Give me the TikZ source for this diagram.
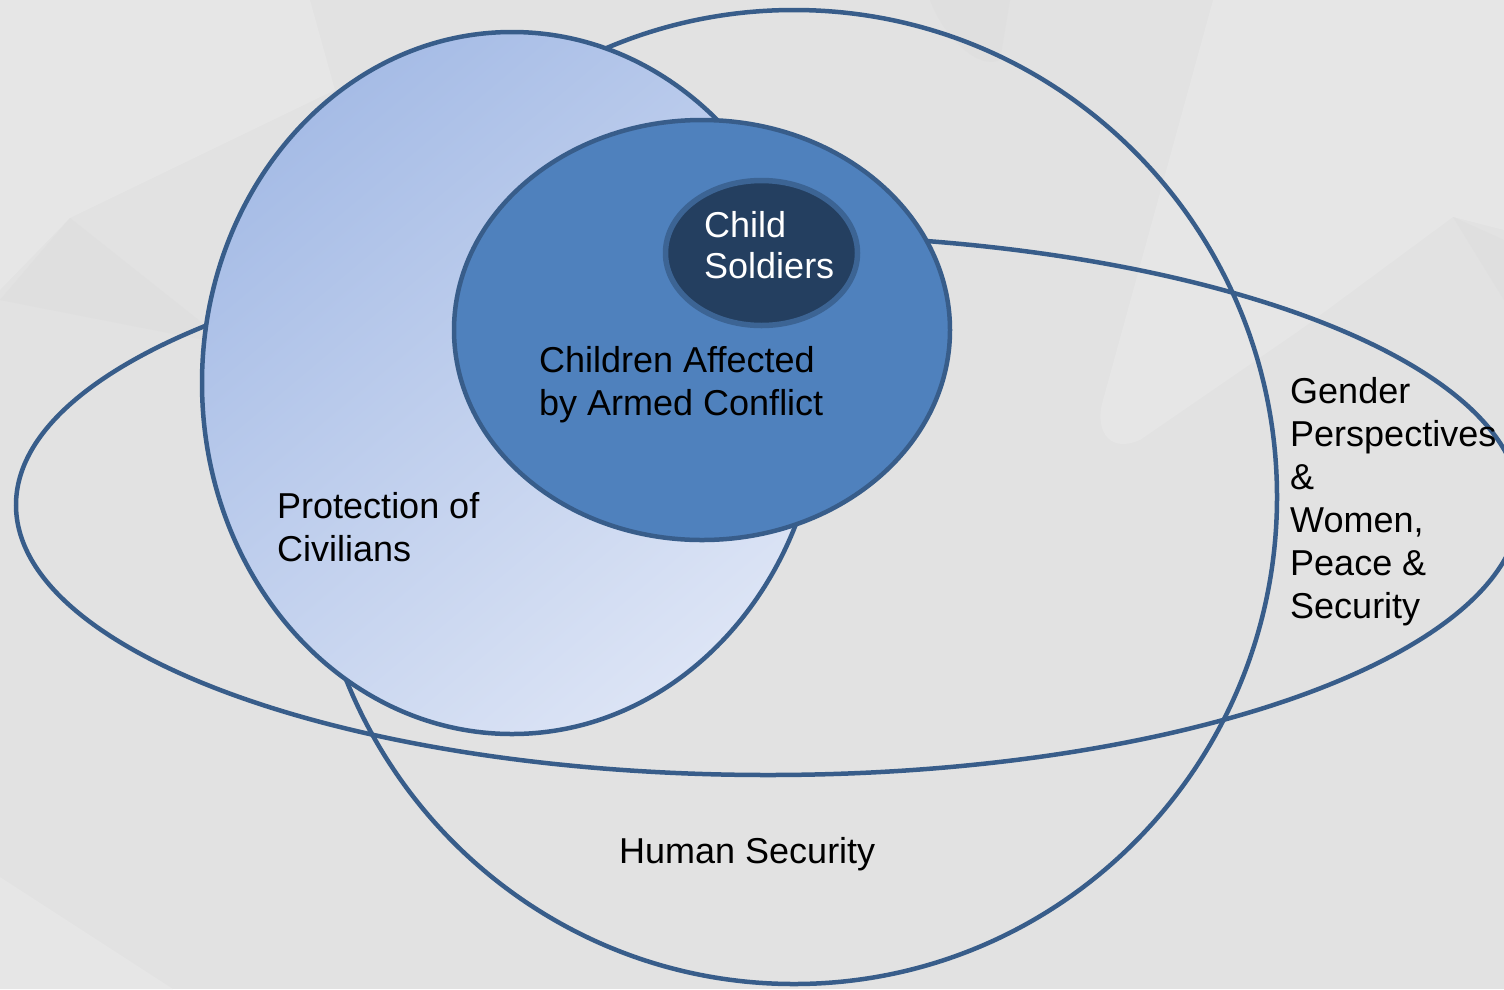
\documentclass[tikz,border=0pt]{standalone}
\usepackage{fontspec}
\setmainfont{Liberation Sans}
\definecolor{edge}{HTML}{385D8A}
\definecolor{bgbase}{HTML}{E2E2E2}
\definecolor{bglight}{HTML}{E6E6E6}
\definecolor{bgdark}{HTML}{DFDFDF}
\definecolor{pocA}{HTML}{A6BCE6}
\definecolor{pocB}{HTML}{DCE4F5}
\definecolor{caacfill}{HTML}{4F81BD}
\definecolor{csfill}{HTML}{243F60}
\definecolor{csedge}{HTML}{3C6494}
\tikzset{
  ring/.style={draw=edge, line width=4.5pt},
  label/.style={anchor=base west, inner sep=0pt, text=black,
    font=\fontsize{36}{43}\selectfont},
}
\newcommand{\lines}[1]{\begin{tabular}[t]{@{}l@{}}#1\end{tabular}}
\renewcommand{\arraystretch}{1}
\begin{document}
\begin{tikzpicture}[x=1pt,y=-1pt]
\useasboundingbox (0,0) rectangle (1504,989);
% background
\fill[bgbase] (0,0) rectangle (1504,989);
\fill[bglight] (0,0) -- (310,0) -- (335,90) -- (70,218) -- (0,290) -- cycle;
\fill[bgdark] (70,218) -- (0,300) -- (230,345) -- cycle;
\fill[bglight] (0,877) -- (173,989) -- (0,989) -- cycle;
\fill[bglight] (1213,0) -- (1504,0) -- (1504,230) -- (1453,217) -- (1300,330)
  -- (1140,440) .. controls (1105,455) and (1095,425) .. (1103,400) -- cycle;
\fill[bgdark] (1453,217) -- (1504,300) -- (1504,240) -- cycle;
\fill[bgdark] (930,0) .. controls (945,40) and (980,70) .. (1000,60) -- (1010,0) -- cycle;
% Human Security
\draw[ring] (794,497) ellipse [x radius=483, y radius=487];
% Gender Perspectives & WPS
\draw[ring] (768,505) ellipse [x radius=752, y radius=270];
% Protection of Civilians
\path[ring, top color=pocA, bottom color=pocB, shading angle=40]
  (512,383) ellipse [x radius=310, y radius=351];
% Children Affected by Armed Conflict
\draw[ring, fill=caacfill] (702,330) ellipse [x radius=248, y radius=210];
% Child Soldiers
\draw[draw=csedge, line width=5.5pt, fill=csfill] (761.5,253) ellipse [x radius=96, y radius=72.5];
% labels
\node[label] (hs) at (619,863) {Human Security};
\node[label] (gps) at (1290,403) {\lines{Gender\\Perspectives\\\&\\Women,\\Peace \&\\Security}};
\node[label] (poc) at (277,518) {\lines{Protection of\\Civilians}};
\node[label] (caac) at (539,372) {\lines{Children Affected\\by Armed Conflict}};
\node[label, text=white, font=\fontsize{36}{41}\selectfont] (cs) at (704,237) {\lines{Child\\Soldiers}};
\end{tikzpicture}
\end{document}
